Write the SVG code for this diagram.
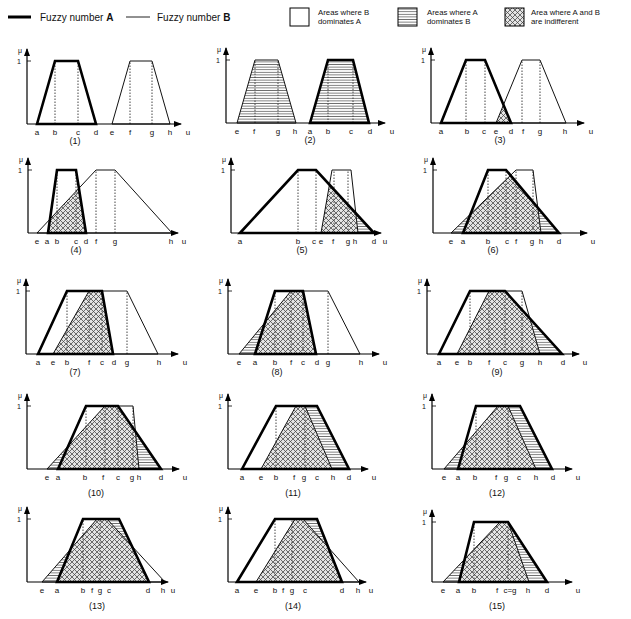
<svg xmlns="http://www.w3.org/2000/svg" width="631" height="619" viewBox="0 0 631 619">
<defs>
<style>
.A{fill:none;stroke:#000;stroke-width:2.6;stroke-linejoin:miter}
.B{fill:none;stroke:#111;stroke-width:1}
.ax{stroke:#000;stroke-width:1.2;fill:none;marker-end:url(#ah)}
.tk{stroke:#000;stroke-width:0.8}
.dot{stroke:#444;stroke-width:1;stroke-dasharray:1.5 1.5}
.h{fill:url(#hatch);stroke:none}
.x{fill:url(#cross);stroke:none}
text{font-family:"Liberation Sans",Arial,sans-serif;fill:#111}
.lb{font-size:8px;text-anchor:middle}
.pn{font-size:9px;text-anchor:middle}
.mu{font-size:7px;text-anchor:middle}
.lg{font-size:10px}
.lgs{font-size:7.8px}
</style>
<marker id="ah" viewBox="0 0 8 6" refX="7" refY="3" markerWidth="8" markerHeight="6" orient="auto" markerUnits="userSpaceOnUse">
<path d="M0,0 L8,3 L0,6 z" fill="#000"/>
</marker>
<pattern id="hatch" width="4" height="2.6" patternUnits="userSpaceOnUse">
<rect width="4" height="2.6" fill="#fff"/>
<line x1="0" y1="1.3" x2="4" y2="1.3" stroke="#555" stroke-width="0.8"/>
</pattern>
<pattern id="cross" width="5" height="5" patternUnits="userSpaceOnUse">
<rect width="5" height="5" fill="#e4e4e4"/>
<path d="M0,0 L5,5 M5,0 L0,5" stroke="#444" stroke-width="0.75"/>
</pattern>
<g id="yax">
<line class="ax" x1="0" y1="0" x2="0" y2="-75"/>
<line class="tk" x1="0" y1="-63" x2="4" y2="-63"/>
<text class="mu" x="-7" y="-71">μ</text>
<text class="mu" x="-8" y="-60">1</text>
</g>
<g id="yax60">
<line class="ax" x1="0" y1="0" x2="0" y2="-72"/>
<line class="tk" x1="0" y1="-60" x2="4" y2="-60"/>
<text class="mu" x="-7" y="-68">μ</text>
<text class="mu" x="-8" y="-57">1</text>
</g>
</defs>
<rect width="631" height="619" fill="#fff"/>

<g id="legend">
<line x1="8" y1="17" x2="31" y2="17" stroke="#000" stroke-width="3"/>
<text class="lg" x="40" y="21">Fuzzy number <tspan font-weight="bold">A</tspan></text>
<line x1="126" y1="17" x2="150" y2="17" stroke="#222" stroke-width="1"/>
<text class="lg" x="157" y="21">Fuzzy number <tspan font-weight="bold">B</tspan></text>
<rect x="290" y="8" width="19" height="18" fill="#fff" stroke="#000" stroke-width="1"/>
<text class="lgs" x="318" y="15">Areas where B</text>
<text class="lgs" x="318" y="24">dominates A</text>
<rect x="398" y="8" width="19" height="18" fill="url(#hatch)" stroke="#000" stroke-width="1"/>
<text class="lgs" x="427" y="15">Areas where A</text>
<text class="lgs" x="427" y="24">dominates B</text>
<rect x="505" y="8" width="19" height="18" fill="url(#cross)" stroke="#000" stroke-width="1"/>
<text class="lgs" x="531" y="15">Area where A and B</text>
<text class="lgs" x="531" y="24">are indifferent</text>
</g>

<g id="panel1" transform="translate(27,124)">
<line class="dot" x1="28" y1="0" x2="28" y2="-63"/><line class="dot" x1="51" y1="0" x2="51" y2="-63"/>
<line class="dot" x1="103" y1="0" x2="103" y2="-63"/><line class="dot" x1="125" y1="0" x2="125" y2="-63"/>
<polygon class="B" points="85,0 103,-63 125,-63 143,0"/>
<polygon class="A" points="10,0 28,-63 51,-63 69,0"/>
<use href="#yax"/><line class="ax" x1="0" y1="0" x2="154" y2="0"/>
<text class="lb" x="10" y="11">a</text><text class="lb" x="28" y="11">b</text><text class="lb" x="51" y="11">c</text><text class="lb" x="69" y="11">d</text>
<text class="lb" x="85" y="11">e</text><text class="lb" x="103" y="11">f</text><text class="lb" x="125" y="11">g</text><text class="lb" x="143" y="11">h</text><text class="lb" x="161" y="11">u</text>
<text class="pn" x="48" y="20">(1)</text>
</g>

<g id="panel2" transform="translate(226,123)">
<polygon class="h" points="11,0 29,-63 52,-63 70,0"/>
<polygon class="h" points="84,0 102,-63 127,-63 143,0"/>
<line class="dot" x1="29" y1="0" x2="29" y2="-63"/><line class="dot" x1="52" y1="0" x2="52" y2="-63"/>
<line class="dot" x1="102" y1="0" x2="102" y2="-63"/><line class="dot" x1="127" y1="0" x2="127" y2="-63"/>
<polygon class="B" points="11,0 29,-63 52,-63 70,0"/>
<polygon class="A" points="84,0 102,-63 127,-63 143,0"/>
<use href="#yax"/><line class="ax" x1="0" y1="0" x2="159" y2="0"/>
<text class="lb" x="11" y="11">e</text><text class="lb" x="28" y="11">f</text><text class="lb" x="52" y="11">g</text><text class="lb" x="69" y="11">h</text>
<text class="lb" x="84" y="11">a</text><text class="lb" x="102" y="11">b</text><text class="lb" x="125" y="11">c</text><text class="lb" x="144" y="11">d</text><text class="lb" x="166" y="11">u</text>
<text class="pn" x="84" y="20">(2)</text>
</g>

<g id="panel3" transform="translate(431,123)">
<polygon class="x" points="65,0 72.5,-18.2 80,0"/>
<line class="dot" x1="35" y1="0" x2="35" y2="-63"/><line class="dot" x1="54" y1="0" x2="54" y2="-63"/>
<line class="dot" x1="91" y1="0" x2="91" y2="-63"/><line class="dot" x1="109" y1="0" x2="109" y2="-63"/>
<polygon class="B" points="65,0 91,-63 109,-63 135,0"/>
<polygon class="A" points="10,0 35,-63 54,-63 80,0"/>
<use href="#yax"/><line class="ax" x1="0" y1="0" x2="153" y2="0"/>
<text class="lb" x="10" y="11">a</text><text class="lb" x="36" y="11">b</text><text class="lb" x="53" y="11">c</text><text class="lb" x="65" y="11">e</text>
<text class="lb" x="80" y="11">d</text><text class="lb" x="92" y="11">f</text><text class="lb" x="109" y="11">g</text><text class="lb" x="134" y="11">h</text><text class="lb" x="160" y="11">u</text>
<text class="pn" x="69" y="20">(3)</text>
</g>

<g id="panel4" transform="translate(28,233)">
<polygon class="x" points="20,0 21.98,-13.9 50.9,-44.7 58,0"/>
<line class="dot" x1="29" y1="0" x2="29" y2="-63"/><line class="dot" x1="48" y1="0" x2="48" y2="-63"/>
<line class="dot" x1="68" y1="0" x2="68" y2="-63"/><line class="dot" x1="87" y1="0" x2="87" y2="-63"/>
<polygon class="B" points="9,0 68,-63 87,-63 144,0"/>
<polygon class="A" points="20,0 29,-63 48,-63 58,0"/>
<use href="#yax"/><line class="ax" x1="0" y1="0" x2="150" y2="0"/>
<text class="lb" x="9" y="11">e</text><text class="lb" x="19" y="11">a</text><text class="lb" x="29" y="11">b</text><text class="lb" x="48" y="11">c</text>
<text class="lb" x="58" y="11">d</text><text class="lb" x="68" y="11">f</text><text class="lb" x="87" y="11">g</text><text class="lb" x="143" y="11">h</text><text class="lb" x="156" y="11">u</text>
<text class="pn" x="48" y="20">(4)</text>
</g>

<g id="panel5" transform="translate(231,233)">
<polygon class="x" points="90,0 98.45,-48.4 124.8,-19.8 127,0"/>
<polygon class="h" points="127,0 124.8,-19.8 143,0"/>
<line class="dot" x1="67" y1="0" x2="67" y2="-63"/><line class="dot" x1="85" y1="0" x2="85" y2="-63"/>
<line class="dot" x1="103" y1="0" x2="103" y2="-63"/><line class="dot" x1="117" y1="0" x2="117" y2="-63"/>
<polygon class="B" points="90,0 101,-63 120,-63 127,0"/>
<polygon class="A" points="9,0 67,-63 85,-63 143,0"/>
<use href="#yax"/><line class="ax" x1="0" y1="0" x2="150" y2="0"/>
<text class="lb" x="9" y="11">a</text><text class="lb" x="67" y="11">b</text><text class="lb" x="83" y="11">c</text><text class="lb" x="90" y="11">e</text>
<text class="lb" x="102" y="11">f</text><text class="lb" x="117" y="11">g</text><text class="lb" x="124" y="11">h</text><text class="lb" x="143" y="11">d</text><text class="lb" x="154" y="11">u</text>
<text class="pn" x="71" y="20">(5)</text>
</g>

<g id="panel6" transform="translate(433,233)">
<polygon class="h" points="18,0 30,0 37.5,-18.9"/>
<polygon class="x" points="30,0 37.5,-18.9 77.5,-57.7 104.8,-25.2 108,0"/>
<polygon class="h" points="108,0 104.8,-25.2 126,0"/>
<line class="dot" x1="55" y1="0" x2="55" y2="-63"/><line class="dot" x1="73" y1="0" x2="73" y2="-63"/>
<line class="dot" x1="83" y1="0" x2="83" y2="-63"/><line class="dot" x1="100" y1="0" x2="100" y2="-63"/>
<polygon class="B" points="18,0 83,-63 100,-63 108,0"/>
<polygon class="A" points="30,0 55,-63 73,-63 126,0"/>
<use href="#yax"/><line class="ax" x1="0" y1="0" x2="154" y2="0"/>
<text class="lb" x="18" y="11">e</text><text class="lb" x="30" y="11">a</text><text class="lb" x="55" y="11">b</text><text class="lb" x="74" y="11">c</text>
<text class="lb" x="83" y="11">f</text><text class="lb" x="99" y="11">g</text><text class="lb" x="108" y="11">h</text><text class="lb" x="126" y="11">d</text><text class="lb" x="160" y="11">u</text>
<text class="pn" x="60" y="20">(6)</text>
</g>

<g id="panel7" transform="translate(26,354)">
<polygon class="x" points="27,0 63,-63 76,-63 87,0"/>
<line class="dot" x1="41" y1="0" x2="41" y2="-63"/><line class="dot" x1="101" y1="0" x2="101" y2="-63"/>
<line class="dot" x1="63" y1="0" x2="63" y2="-63"/><line class="dot" x1="76" y1="0" x2="76" y2="-63"/>
<polygon class="B" points="27,0 63,-63 101,-63 132,0"/>
<polygon class="A" points="12,0 41,-63 76,-63 87,0"/>
<use href="#yax"/><line class="ax" x1="0" y1="0" x2="152" y2="0"/>
<text class="lb" x="12" y="11">a</text><text class="lb" x="27" y="11">e</text><text class="lb" x="41" y="11">b</text><text class="lb" x="63" y="11">f</text>
<text class="lb" x="76" y="11">c</text><text class="lb" x="88" y="11">d</text><text class="lb" x="101" y="11">g</text><text class="lb" x="133" y="11">h</text><text class="lb" x="159" y="11">u</text>
<text class="pn" x="49" y="21">(7)</text>
</g>

<g id="panel8" transform="translate(228,354)">
<polygon class="h" points="11,0 27,0 37,-31.5"/>
<polygon class="x" points="27,0 37,-31.5 63,-63 75,-63 88,0"/>
<line class="dot" x1="47" y1="0" x2="47" y2="-63"/><line class="dot" x1="63" y1="0" x2="63" y2="-63"/>
<line class="dot" x1="75" y1="0" x2="75" y2="-63"/><line class="dot" x1="100" y1="0" x2="100" y2="-63"/>
<polygon class="B" points="11,0 63,-63 100,-63 132,0"/>
<polygon class="A" points="27,0 47,-63 75,-63 88,0"/>
<use href="#yax"/><line class="ax" x1="0" y1="0" x2="151" y2="0"/>
<text class="lb" x="11" y="11">e</text><text class="lb" x="27" y="11">a</text><text class="lb" x="47" y="11">b</text><text class="lb" x="63" y="11">f</text>
<text class="lb" x="75" y="11">c</text><text class="lb" x="89" y="11">d</text><text class="lb" x="100" y="11">g</text><text class="lb" x="133" y="11">h</text><text class="lb" x="157" y="11">u</text>
<text class="pn" x="49" y="21">(8)</text>
</g>

<g id="panel9" transform="translate(427,354)">
<polygon class="x" points="30,0 62,-63 78,-63 102.8,-35.5 113,0"/>
<polygon class="h" points="113,0 102.8,-35.5 135,0"/>
<line class="dot" x1="43" y1="0" x2="43" y2="-63"/><line class="dot" x1="62" y1="0" x2="62" y2="-63"/>
<line class="dot" x1="78" y1="0" x2="78" y2="-63"/><line class="dot" x1="95" y1="0" x2="95" y2="-63"/>
<polygon class="B" points="30,0 62,-63 95,-63 113,0"/>
<polygon class="A" points="12,0 43,-63 78,-63 135,0"/>
<use href="#yax"/><line class="ax" x1="0" y1="0" x2="152" y2="0"/>
<text class="lb" x="12" y="11">a</text><text class="lb" x="30" y="11">e</text><text class="lb" x="43" y="11">b</text><text class="lb" x="62" y="11">f</text>
<text class="lb" x="78" y="11">c</text><text class="lb" x="95" y="11">g</text><text class="lb" x="113" y="11">h</text><text class="lb" x="136" y="11">d</text><text class="lb" x="158" y="11">u</text>
<text class="pn" x="70" y="21">(9)</text>
</g>

<g id="panel10" transform="translate(27,469)">
<polygon class="h" points="20,0 31,0 41.3,-23.1"/>
<polygon class="x" points="31,0 41.3,-23.1 78,-63 91,-63 108.4,-37.5 112,0"/>
<polygon class="h" points="112,0 108.4,-37.5 134,0"/>
<line class="dot" x1="59" y1="0" x2="59" y2="-63"/><line class="dot" x1="78" y1="0" x2="78" y2="-63"/>
<line class="dot" x1="91" y1="0" x2="91" y2="-63"/><line class="dot" x1="106" y1="0" x2="106" y2="-63"/>
<polygon class="B" points="20,0 78,-63 106,-63 112,0"/>
<polygon class="A" points="31,0 59,-63 91,-63 134,0"/>
<use href="#yax"/><line class="ax" x1="0" y1="0" x2="152" y2="0"/>
<text class="lb" x="20" y="11">e</text><text class="lb" x="31" y="11">a</text><text class="lb" x="58" y="11">b</text><text class="lb" x="76" y="11">f</text>
<text class="lb" x="91" y="11">c</text><text class="lb" x="105" y="11">g</text><text class="lb" x="112" y="11">h</text><text class="lb" x="134" y="11">d</text><text class="lb" x="158" y="11">u</text>
<text class="pn" x="69" y="27">(10)</text>
</g>

<g id="panel11" transform="translate(228,469)">
<polygon class="x" points="33,0 68,-63 77,-63 104,0"/>
<polygon class="h" points="77,-63 89,-63 121,0 104,0"/>
<line class="dot" x1="48" y1="0" x2="48" y2="-63"/><line class="dot" x1="77" y1="0" x2="77" y2="-63"/>
<polygon class="B" points="33,0 68,-63 77,-63 104,0"/>
<polygon class="A" points="14,0 48,-63 89,-63 121,0"/>
<use href="#yax"/><line class="ax" x1="0" y1="0" x2="140" y2="0"/>
<text class="lb" x="14" y="11">a</text><text class="lb" x="33" y="11">e</text><text class="lb" x="48" y="11">b</text><text class="lb" x="66" y="11">f</text>
<text class="lb" x="76" y="11">g</text><text class="lb" x="89" y="11">c</text><text class="lb" x="105" y="11">h</text><text class="lb" x="121" y="11">d</text><text class="lb" x="146" y="11">u</text>
<text class="pn" x="65" y="27">(11)</text>
</g>

<g id="panel12" transform="translate(432,469)">
<polygon class="h" points="12,0 26,0 33,-24.5"/>
<polygon class="x" points="26,0 33,-24.5 66,-63 76,-63 104,0"/>
<polygon class="h" points="76,-63 88,-63 120,0 104,0"/>
<line class="dot" x1="44" y1="0" x2="44" y2="-63"/><line class="dot" x1="76" y1="0" x2="76" y2="-63"/>
<polygon class="B" points="12,0 66,-63 76,-63 104,0"/>
<polygon class="A" points="26,0 44,-63 88,-63 120,0"/>
<use href="#yax"/><line class="ax" x1="0" y1="0" x2="140" y2="0"/>
<text class="lb" x="12" y="11">e</text><text class="lb" x="26" y="11">a</text><text class="lb" x="43" y="11">b</text><text class="lb" x="64" y="11">f</text>
<text class="lb" x="74" y="11">g</text><text class="lb" x="87" y="11">c</text><text class="lb" x="104" y="11">h</text><text class="lb" x="121" y="11">d</text><text class="lb" x="146" y="11">u</text>
<text class="pn" x="65" y="27">(12)</text>
</g>

<g id="panel13" transform="translate(27,582)">
<polygon class="h" points="15,0 30,0 43.4,-32.6"/>
<polygon class="x" points="30,0 43.4,-32.6 70,-63 80,-63 104.9,-36 122,0"/>
<polygon class="h" points="80,-63 92,-63 104.9,-36"/>
<line class="dot" x1="56" y1="0" x2="56" y2="-63"/><line class="dot" x1="73" y1="0" x2="73" y2="-63"/>
<polygon class="B" points="15,0 70,-63 80,-63 138,0"/>
<polygon class="A" points="30,0 56,-63 92,-63 122,0"/>
<use href="#yax"/><line class="ax" x1="0" y1="0" x2="141" y2="0"/>
<text class="lb" x="15" y="11">e</text><text class="lb" x="30" y="11">a</text><text class="lb" x="56" y="11">b</text><text class="lb" x="65" y="11">f</text>
<text class="lb" x="73" y="11">g</text><text class="lb" x="82" y="11">c</text><text class="lb" x="121" y="11">d</text><text class="lb" x="136" y="11">h</text><text class="lb" x="146" y="11">u</text>
<text class="pn" x="70" y="27">(13)</text>
</g>

<g id="panel14" transform="translate(228,582)">
<polygon class="x" points="28,0 67,-63 75,-63 100.3,-34.5 114,0"/>
<polygon class="h" points="75,-63 89,-63 100.3,-34.5"/>
<line class="dot" x1="47" y1="0" x2="47" y2="-63"/><line class="dot" x1="64" y1="0" x2="64" y2="-63"/>
<polygon class="B" points="28,0 67,-63 75,-63 131,0"/>
<polygon class="A" points="9,0 47,-63 89,-63 114,0"/>
<use href="#yax"/><line class="ax" x1="0" y1="0" x2="138" y2="0"/>
<text class="lb" x="9" y="11">a</text><text class="lb" x="28" y="11">e</text><text class="lb" x="47" y="11">b</text><text class="lb" x="55" y="11">f</text>
<text class="lb" x="64" y="11">g</text><text class="lb" x="77" y="11">c</text><text class="lb" x="114" y="11">d</text><text class="lb" x="130" y="11">h</text><text class="lb" x="143" y="11">u</text>
<text class="pn" x="65" y="27">(14)</text>
</g>

<g id="panel15" transform="translate(432,582)">
<polygon class="h" points="11,0 27,0 32.7,-22.9"/>
<polygon class="x" points="27,0 32.7,-22.9 68,-60 76,-60 97,0"/>
<polygon class="h" points="76,-60 115,0 97,0"/>
<line class="dot" x1="42" y1="0" x2="42" y2="-60"/><line class="dot" x1="76" y1="0" x2="76" y2="-60"/>
<polygon class="B" points="11,0 68,-60 76,-60 97,0"/>
<polygon class="A" points="27,0 42,-60 76,-60 115,0"/>
<use href="#yax60"/><line class="ax" x1="0" y1="0" x2="140" y2="0"/>
<text class="lb" x="11" y="11">e</text><text class="lb" x="26" y="11">a</text><text class="lb" x="42" y="11">b</text><text class="lb" x="65" y="11">f</text>
<text class="lb" x="78" y="11">c=g</text><text class="lb" x="96" y="11">h</text><text class="lb" x="115" y="11">d</text><text class="lb" x="146" y="11">u</text>
<text class="pn" x="65" y="27">(15)</text>
</g>
</svg>
